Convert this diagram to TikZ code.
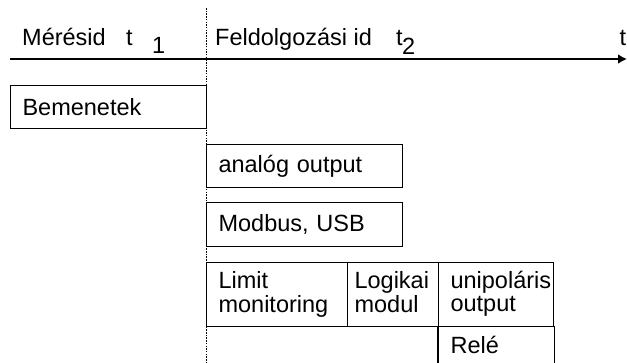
\documentclass[tikz,border=0pt]{standalone}
\usepackage{fontspec}
\setmainfont{Liberation Sans}
\usetikzlibrary{arrows.meta}
\newcommand{\boxstrut}{\rule[-6pt]{0pt}{22pt}}
\begin{document}
\begin{tikzpicture}[x=1pt,y=-1pt,
  every node/.style={font=\fontsize{23.5}{23}\selectfont, inner sep=0pt},
  boxstyle/.style={draw, line width=1.1pt, anchor=north west, align=left, inner xsep=12pt, inner ysep=0pt},
  lbl/.style={anchor=base west},
  axisline/.style={line width=1.9pt, -{Latex[length=9pt,width=10pt]}},
  timeline/.style={line width=0.9pt, dash pattern=on 1.5pt off 1.2pt}]
\useasboundingbox (0,0) rectangle (627,362);
% time axis
\coordinate (axstart) at (10,59);
\coordinate (axend) at (627,59);
\draw[axisline] (axstart) -- (axend);
% dotted t1 line
\coordinate (dtop) at (206,8);
\coordinate (dbot) at (206,362);
\draw[timeline] (dtop) -- (dbot);
% axis labels
\node[lbl] (meres) at (22,45.5) {Mérésid};
\node[lbl] (t1) at (126,45.5) {t};
\node[lbl] (t1s) at (152,53.5) {1};
\node[lbl] (feld) at (215,45.5) {Feldolgozási id};
\node[lbl] (t2) at (396,45.5) {t};
\node[lbl] (t2s) at (402,54) {2};
\node[lbl] (tt) at (619.5,45.5) {t};
% boxes
\node[boxstyle, text width=172pt, minimum height=43pt] (bem) at (10,85) {Bemenetek};
\node[boxstyle, text width=172pt, minimum height=43pt] (analog) at (206,144) {analóg output};
\node[boxstyle, text width=172pt, minimum height=44pt] (modbus) at (206,202) {Modbus, USB};
\node[boxstyle, text width=117pt, minimum height=64pt] (limit) at (206,262) {\boxstrut Limit\\monitoring\boxstrut};
\node[boxstyle, inner xsep=7pt, text width=77pt, minimum height=64pt] (logikai) at (347,262) {\boxstrut Logikai\\modul\boxstrut};
\node[boxstyle, text width=91pt, minimum height=64pt] (unip) at (438,262) {\boxstrut unipoláris\\output\boxstrut};
\node[boxstyle, draw=none, text width=91pt, minimum height=36pt] (rele) at (438,326) {Relé};
\draw[line width=1.1pt] (rele.north west) -- (rele.south west);
\draw[line width=1.1pt] (rele.north east) -- (rele.south east);
\end{tikzpicture}
\end{document}
